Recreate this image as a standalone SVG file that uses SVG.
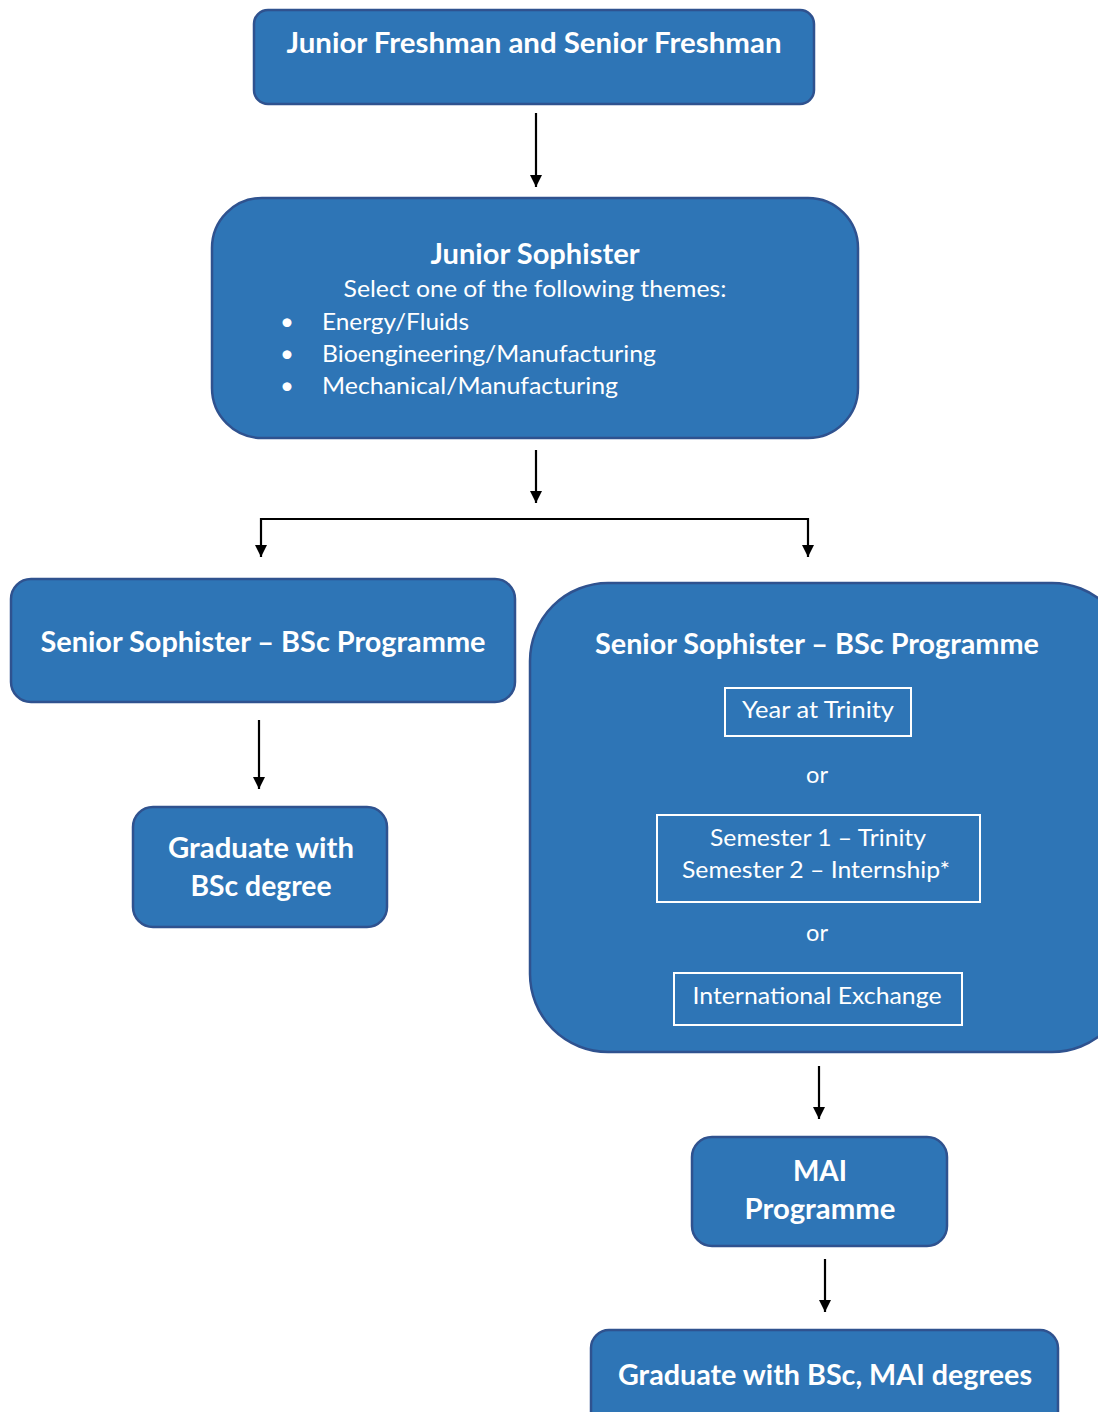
<svg xmlns="http://www.w3.org/2000/svg" width="1098" height="1412" viewBox="0 0 1098 1412">
<style>
.box{fill:#2E75B6;stroke:#2F528F;stroke-width:2.5}
.inner{fill:none;stroke:#FFFFFF;stroke-width:2}
.b{font-family:Lato,"Liberation Sans",sans-serif;font-weight:bold;font-size:28px;fill:#FFFFFF}
.r{font-family:Lato,"Liberation Sans",sans-serif;font-size:24px;fill:#FFFFFF}
.c{text-anchor:middle}
.conn{fill:none;stroke:#000000;stroke-width:2.2}
</style>
<defs>
<marker id="ah" viewBox="0 0 10 10" refX="10" refY="5" markerWidth="12" markerHeight="12" markerUnits="userSpaceOnUse" orient="auto">
<path d="M0,0 L10,5 L0,10 Z" fill="#000000"/>
</marker>
</defs>
<rect width="1098" height="1412" fill="#FFFFFF"/>
<g id="connectors">
<line class="conn" x1="536" y1="113" x2="536" y2="187" marker-end="url(#ah)"/>
<line class="conn" x1="536" y1="450" x2="536" y2="503" marker-end="url(#ah)"/>
<polyline class="conn" points="534,519 261,519 261,557" marker-end="url(#ah)"/>
<polyline class="conn" points="534,519 808,519 808,557" marker-end="url(#ah)"/>
<line class="conn" x1="259" y1="720" x2="259" y2="789" marker-end="url(#ah)"/>
<line class="conn" x1="819" y1="1066" x2="819" y2="1119" marker-end="url(#ah)"/>
<line class="conn" x1="825" y1="1259" x2="825" y2="1312" marker-end="url(#ah)"/>
</g>
<g id="node-freshman">
<rect class="box" x="254" y="10" width="560" height="94" rx="14"/>
<text class="b c" x="534" y="53" textLength="495" lengthAdjust="spacingAndGlyphs">Junior Freshman and Senior Freshman</text>
</g>
<g id="node-junior-sophister">
<rect class="box" x="212" y="198" width="646" height="240" rx="50"/>
<text class="b c" x="535" y="264" textLength="209" lengthAdjust="spacingAndGlyphs">Junior Sophister</text>
<text class="r c" x="535" y="297" textLength="383" lengthAdjust="spacingAndGlyphs">Select one of the following themes:</text>
<text class="r" x="280" y="330">•</text>
<text class="r" x="322" y="330" textLength="147" lengthAdjust="spacingAndGlyphs">Energy/Fluids</text>
<text class="r" x="280" y="362">•</text>
<text class="r" x="322" y="362" textLength="334" lengthAdjust="spacingAndGlyphs">Bioengineering/Manufacturing</text>
<text class="r" x="280" y="394">•</text>
<text class="r" x="322" y="394" textLength="296" lengthAdjust="spacingAndGlyphs">Mechanical/Manufacturing</text>
</g>
<g id="node-senior-bsc">
<rect class="box" x="11" y="579" width="504" height="123" rx="20"/>
<text class="b c" x="263" y="652" textLength="445" lengthAdjust="spacingAndGlyphs">Senior Sophister – BSc Programme</text>
</g>
<g id="node-senior-mai">
<rect class="box" x="530" y="583" width="600" height="469" rx="78"/>
<text class="b c" x="817" y="654" textLength="444" lengthAdjust="spacingAndGlyphs">Senior Sophister – BSc Programme</text>
<rect class="inner" x="725" y="688" width="186" height="48"/>
<text class="r c" x="818" y="718" textLength="152" lengthAdjust="spacingAndGlyphs">Year at Trinity</text>
<text class="r c" x="817" y="783" textLength="22" lengthAdjust="spacingAndGlyphs">or</text>
<rect class="inner" x="657" y="815" width="323" height="87"/>
<text class="r c" x="818" y="846" textLength="216" lengthAdjust="spacingAndGlyphs">Semester 1 – Trinity</text>
<text class="r c" x="816" y="878" textLength="268" lengthAdjust="spacingAndGlyphs">Semester 2 – Internship*</text>
<text class="r c" x="817" y="941" textLength="22" lengthAdjust="spacingAndGlyphs">or</text>
<rect class="inner" x="674" y="973" width="288" height="52"/>
<text class="r c" x="817" y="1004" textLength="249" lengthAdjust="spacingAndGlyphs">International Exchange</text>
</g>
<g id="node-graduate-bsc">
<rect class="box" x="133" y="807" width="254" height="120" rx="20"/>
<text class="b c" x="261" y="858" textLength="186" lengthAdjust="spacingAndGlyphs">Graduate with</text>
<text class="b c" x="261" y="896" textLength="141" lengthAdjust="spacingAndGlyphs">BSc degree</text>
</g>
<g id="node-mai">
<rect class="box" x="692" y="1137" width="255" height="109" rx="20"/>
<text class="b c" x="820" y="1181" textLength="54" lengthAdjust="spacingAndGlyphs">MAI</text>
<text class="b c" x="820" y="1219" textLength="151" lengthAdjust="spacingAndGlyphs">Programme</text>
</g>
<g id="node-graduate-mai">
<rect class="box" x="591" y="1330" width="467" height="100" rx="18"/>
<text class="b c" x="825" y="1385" textLength="414" lengthAdjust="spacingAndGlyphs">Graduate with BSc, MAI degrees</text>
</g>
</svg>
